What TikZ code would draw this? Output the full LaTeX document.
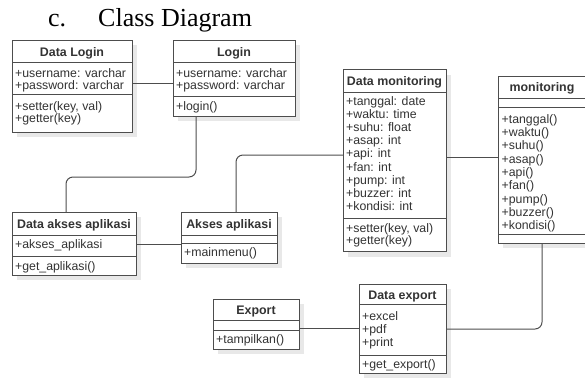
\documentclass[tikz,border=0pt]{standalone}
\usepackage{fontspec}
\setmainfont{Liberation Serif}
\newfontfamily\umlfont{Liberation Sans}
\usetikzlibrary{shadows}
\definecolor{edge}{HTML}{4D4D4D}
\definecolor{ink}{HTML}{333333}
\definecolor{shade}{HTML}{E8E8E8}

\tikzset{
  classbox/.style={draw=edge, line width=1pt, fill=white, inner sep=0pt, outer sep=0pt,
    anchor=north west,
    drop shadow={shadow xshift=5pt, shadow yshift=-5pt, fill=shade, opacity=1}},
  divider/.style={draw=edge, line width=1pt},
  classname/.style={font=\umlfont\fontsize{12.4}{14}\selectfont\bfseries, text=ink,
    anchor=base, inner sep=0pt},
  member/.style={font=\umlfont\fontsize{12.3}{14}\selectfont, text=ink,
    anchor=base west, inner sep=0pt},
  link/.style={draw=edge, line width=1pt, rounded corners=7pt},
  heading/.style={font=\fontsize{26}{30}\selectfont, anchor=base west, inner sep=0pt},
}

\begin{document}
\begin{tikzpicture}[x=1pt, y=-1pt]
\useasboundingbox (0,0) rectangle (585,378);

% heading
\node[heading] (head-num) at (48,26) {c.};
\node[heading] (head) at (98,26) {Class Diagram};

% Data Login
\node[classbox, minimum width=120pt, minimum height=92pt] (dlogin) at (12,40) {};
\draw[divider] (12,62) -- (132,62) (12,94) -- (132,94);
\node[classname] (dlogin-name) at (72,56) {Data Login};
\node[member] (dlogin-a1) at (15,77) {+username: varchar};
\node[member] (dlogin-a2) at (15,89) {+password: varchar};
\node[member] (dlogin-m1) at (15,110) {+setter(key, val)};
\node[member] (dlogin-m2) at (15,122) {+getter(key)};

% Login
\node[classbox, minimum width=122pt, minimum height=76pt] (login) at (173,40) {};
\draw[divider] (173,62) -- (295,62) (173,96) -- (295,96);
\node[classname] (login-name) at (234,56) {Login};
\node[member] (login-a1) at (176,77) {+username: varchar};
\node[member] (login-a2) at (176,89) {+password: varchar};
\node[member] (login-m1) at (176,110.5) {+login()};

% Data monitoring
\node[classbox, minimum width=103pt, minimum height=182pt] (dmon) at (343,69.5) {};
\draw[divider] (343,92) -- (446,92) (343,218) -- (446,218);
\node[classname] (dmon-name) at (394.5,85) {Data monitoring};
\foreach \t [count=\i] in {+tanggal: date, +waktu: time, +suhu: float, +asap: int,
    +api: int, +fan: int, +pump: int, +buzzer: int, +kondisi: int}
  \node[member] (dmon-a\i) at (346,{105.5+13.1*(\i-1)}) {\t};
\node[member] (dmon-m1) at (346,232) {+setter(key, val)};
\node[member] (dmon-m2) at (346,244) {+getter(key)};

% monitoring
\node[classbox, minimum width=88pt, minimum height=167pt] (mon) at (498,76) {};
\draw[divider] (498,98) -- (586,98) (498,107) -- (586,107) (498,234) -- (586,234);
\node[classname] (mon-name) at (542,91.5) {monitoring};
\foreach \t [count=\i] in {+tanggal(), +waktu(), +suhu(), +asap(), +api(), +fan(),
    +pump(), +buzzer(), +kondisi()}
  \node[member] (mon-m\i) at (501.5,{123.3+13.3*(\i-1)}) {\t};

% Data akses aplikasi
\node[classbox, minimum width=124pt, minimum height=63pt] (dakses) at (12,212) {};
\draw[divider] (12,235) -- (136,235) (12,256) -- (136,256);
\node[classname] (dakses-name) at (74,228) {Data akses aplikasi};
\node[member] (dakses-a1) at (15,248) {+akses\_aplikasi};
\node[member] (dakses-m1) at (15,270) {+get\_aplikasi()};

% Akses aplikasi
\node[classbox, minimum width=96pt, minimum height=51pt] (akses) at (181,212) {};
\draw[divider] (181,235) -- (277,235) (181,243) -- (277,243);
\node[classname] (akses-name) at (229,228) {Akses aplikasi};
\node[member] (akses-m1) at (184,256.5) {+mainmenu()};

% Export
\node[classbox, minimum width=86pt, minimum height=50pt] (export) at (213,299) {};
\draw[divider] (213,320) -- (299,320) (213,330) -- (299,330);
\node[classname] (export-name) at (256,314) {Export};
\node[member] (export-m1) at (216,343) {+tampilkan()};

% Data export
\node[classbox, minimum width=87pt, minimum height=89pt] (dexport) at (359,284) {};
\draw[divider] (359,304) -- (446,304) (359,355) -- (446,355);
\node[classname] (dexport-name) at (402.5,299) {Data export};
\node[member] (dexport-a1) at (362,320) {+excel};
\node[member] (dexport-a2) at (362,333) {+pdf};
\node[member] (dexport-a3) at (362,346) {+print};
\node[member] (dexport-m1) at (362,368) {+get\_export()};

% associations
\draw[link] (dlogin.east |- 0,83) -- (login.west |- 0,83);
\draw[link] (login.south -| 196,0) -- (196,177) -- (66,177) -- (dakses.north -| 66,0);
\draw[link] (dakses.east |- 0,244) -- (akses.west |- 0,244);
\draw[link] (akses.north -| 236,0) -- (236,155) -- (dmon.west |- 0,155);
\draw[link] (dmon.east |- 0,157) -- (mon.west |- 0,157);
\draw[link] (mon.south -| 542,0) -- (542,329) -- (dexport.east |- 0,329);
\draw[link] (export.east |- 0,328) -- (dexport.west |- 0,328);
\end{tikzpicture}
\end{document}
